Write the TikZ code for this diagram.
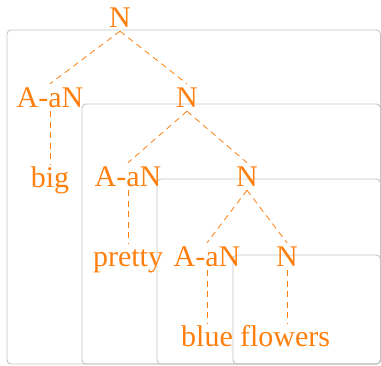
\documentclass[tikz,border=0pt]{standalone}
\usepackage{fontspec}
\setmainfont{Liberation Serif}
\definecolor{treeorange}{RGB}{255,127,14}
\definecolor{boxgray}{RGB}{195,195,195}
\begin{document}
\begin{tikzpicture}[x=1pt,y=-1pt,
  lab/.style={text=treeorange, font=\fontsize{30}{30}\selectfont, anchor=base,
    text height=21pt, text depth=0pt, inner sep=3pt},
  edge/.style={draw=treeorange, line width=0.8pt, dash pattern=on 6pt off 4.5pt},
  frame/.style={draw=boxgray, line width=0.9pt, rounded corners=4pt}]
\useasboundingbox (0,0) rectangle (381,366);
% nested frames
\draw[frame] (7,30) rectangle (380.5,364);
\draw[frame] (82,104) rectangle (380.5,364);
\draw[frame] (157,179) rectangle (380.5,364);
\draw[frame] (233,255) rectangle (380.5,364);
% nodes
\node[lab] (n0) at (120,28) {N};
\node[lab] (a1) at (50,108) {A-aN};
\node[lab] (n1) at (187,108) {N};
\node[lab] (big) at (50,188) {big};
\node[lab] (a2) at (128,187) {A-aN};
\node[lab] (n2) at (247,187) {N};
\node[lab] (pretty) at (128,267) {pretty};
\node[lab] (a3) at (207,267) {A-aN};
\node[lab] (n3) at (287,267) {N};
\node[lab] (blue) at (207,347) {blue};
\node[lab] (flowers) at (285,347) {flowers};
% edges
\draw[edge] (n0.south) -- (a1.north);
\draw[edge] (n0.south) -- (n1.north);
\draw[edge] (a1.south) -- (big.north);
\draw[edge] (n1.south) -- (a2.north);
\draw[edge] (n1.south) -- (n2.north);
\draw[edge] (a2.south) -- (pretty.north);
\draw[edge] (n2.south) -- (a3.north);
\draw[edge] (n2.south) -- (n3.north);
\draw[edge] (a3.south) -- (blue.north);
\draw[edge] (n3.south) -- (n3.south |- flowers.north);
\end{tikzpicture}
\end{document}
